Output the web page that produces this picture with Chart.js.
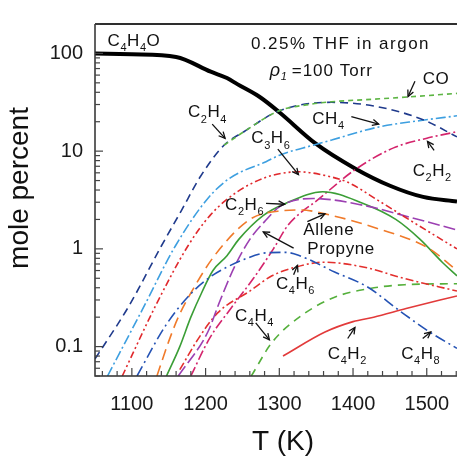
<!DOCTYPE html>
<html><head><meta charset="utf-8">
<script src="https://cdn.jsdelivr.net/npm/chart.js@4.4.0/dist/chart.umd.min.js"></script>
<style>html,body{margin:0;padding:0;background:#fff}#w{width:465px;height:456px}</style>
</head><body><div id="w"><canvas id="c" width="465" height="456"></canvas></div>
<script>
// ---- data (temperature in K, mole percent) ----
const T_C4H4O = [1050,1100,1160,1207,1229,1243,1273,1300,1349,1402,1451,1495,1541];
const C4H4O   = [100,98,92,65,56,48.5,36,25,12,6.7,4.4,3.4,3.05];
const T_C2H4 = [1050,1057,1096,1140,1167,1193,1225,1252,1300,1371,1428,1495,1541];
const C2H4   = [0.075,0.09,0.26,1.07,2.45,5.5,11.5,15.8,25.9,31.6,29,21,14];
const T_CO = [1225,1252,1300,1340,1371,1428,1478,1541];
const CO   = [11.5,15.8,25.9,30,32,34,36,39];
const T_CH4 = [1067,1114,1159,1203,1233,1282,1302,1346,1371,1435,1490,1541];
const CH4   = [0.05,0.237,1.07,3.28,5.3,7.8,9.2,11.5,13,17.7,20.5,23];
const T_C3H6 = [1087,1132,1176,1207,1243,1282,1302,1326,1368,1393,1435,1488,1541];
const C3H6   = [0.05,0.26,1.07,2.24,3.84,5.4,5.9,6.15,5.5,4.8,3.1,1.75,1.0];
const T_C4H8 = [1107,1146,1180,1207,1229,1252,1282,1309,1326,1375,1419,1464,1504,1541];
const C4H8   = [0.05,0.165,0.347,0.52,0.65,0.78,0.91,0.92,0.86,0.58,0.41,0.23,0.141,0.096];
const T_ALLENE = [1134,1150,1163,1185,1212,1260,1302,1330,1362,1435,1502,1541];
const ALLENE   = [0.05,0.113,0.2,0.41,0.85,2.0,2.45,2.5,2.28,1.6,1.02,0.6];
const T_GREEN = [1147,1165,1180,1195,1210,1229,1245,1278,1309,1359,1413,1458,1491,1521,1541];
const GREEN   = [0.05,0.1,0.2,0.36,0.6,0.85,1.25,2.19,2.93,3.84,2.93,2.0,1.25,0.73,0.53];
const T_PURPLE = [1163,1203,1220,1239,1260,1280,1302,1346,1413,1479,1541];
const PURPLE   = [0.05,0.141,0.3,0.65,1.25,1.9,2.75,3.28,2.8,2.09,1.56];
const T_C4H6 = [1165,1190,1216,1260,1290,1322,1360,1419,1464,1541];
const C4H6   = [0.058,0.12,0.22,0.37,0.53,0.65,0.73,0.64,0.51,0.37];
const T_C2H2 = [1180,1205,1235,1265,1292,1312,1355,1402,1455,1499,1541];
const C2H2   = [0.05,0.12,0.25,0.5,1.0,1.75,3.3,6.4,10.8,13.5,15.8];
const T_C4H4 = [1262,1290,1331,1375,1420,1470,1541];
const C4H4   = [0.05,0.11,0.21,0.32,0.39,0.43,0.44];
const T_C4H2 = [1305,1362,1400,1428,1472,1541];
const C4H2   = [0.08,0.141,0.18,0.2,0.245,0.33];

const X_TICKS = [1100,1200,1300,1400,1500];
const Y_TICKS = [0.1,1,10,100];

// annotation labels: [text, T, value]  (text uses _n for subscripts)
const LABELS = [
  ['C_4H_4O',1067,119],['C_2H_4',1176,22.1],['CO',1494.5,48.5],['CH_4',1344.6,18.9],
  ['C_3H_6',1262,12.0],['C_2H_2',1481,5.6],['C_2H_6',1226.5,2.5],['Allene',1332.6,1.39],
  ['Propyne',1338,0.887],['C_4H_6',1295.5,0.386],['C_4H_4',1239.8,0.184],
  ['C_4H_2',1365.8,0.0748],['C_4H_8',1465.3,0.0748]
];
// arrows: [T1,v1,T2,v2] (head at 2nd point)
const ARROWS = [
  [1484,51.9,1474.6,36.2],[1209,18.9,1226.5,13.5],[1397.7,22.6,1434.8,18.9],
  [1298,10.5,1326,5.74],[1510,10.2,1501,12.6],[1282,2.92,1307.4,2.86],
  [1338,1.9,1362,2.28],[1319.4,1.016,1278.2,1.49],[1319.4,0.542,1324.7,0.678],
  [1268,0.175,1286.6,0.117],[1392.8,0.121,1402.6,0.157],[1494.5,0.121,1505.5,0.141]
];

function pts(ts, vs){ return ts.map((t,i)=>({x:t,y:vs[i]})); }
function ds(label, ts, vs, color, dash, width){
  return {label, data:pts(ts,vs), borderColor:color, borderDash:dash, borderWidth:width||1.6,
    pointRadius:0, fill:false, cubicInterpolationMode:'monotone', borderCapStyle:'butt'};
}

const datasets = [
  ds('CO', T_CO, CO, '#5db544', [5,4]),
  ds('C2H4', T_C2H4, C2H4, '#1f3a8c', [8,5]),
  ds('CH4', T_CH4, CH4, '#3d9fe0', [10,3,2,3]),
  ds('C3H6', T_C3H6, C3H6, '#e0282c', [7,3,2,3,2,3]),
  ds('C4H8', T_C4H8, C4H8, '#2452b4', [11,4,2,4]),
  ds('Allene', T_ALLENE, ALLENE, '#f07a2a', [11,6]),
  ds('Propyne', T_PURPLE, PURPLE, '#9c40b2', [12,4]),
  ds('C2H6', T_GREEN, GREEN, '#3b9e36', []),
  ds('C4H6', T_C4H6, C4H6, '#e3302e', [8,3,2,3]),
  ds('C2H2', T_C2H2, C2H2, '#d4246c', [10,3,2,3]),
  ds('C4H4', T_C4H4, C4H4, '#55b03c', [8,6]),
  ds('C4H2', T_C4H2, C4H2, '#e23a3a', []),
  ds('C4H4O', T_C4H4O, C4H4O, '#000000', [], 4)
];

const FONT = '"Liberation Sans", Arial, Helvetica, sans-serif';

function drawFormula(ctx, str, x, y, size){
  let cx = x;
  for (let i=0;i<str.length;i++){
    let ch = str[i];
    if (ch==='_'){
      const s = str[++i];
      ctx.font = Math.round(size*0.66)+'px '+FONT;
      ctx.fillText(s, cx, y+size*0.3);
      cx += ctx.measureText(s).width + 0.5;
    } else {
      ctx.font = size+'px '+FONT;
      ctx.fillText(ch, cx, y);
      cx += ctx.measureText(ch).width + 0.6;
    }
  }
}
function arrow(ctx,x1,y1,x2,y2){
  ctx.beginPath(); ctx.moveTo(x1,y1); ctx.lineTo(x2,y2); ctx.stroke();
  const a = Math.atan2(y2-y1,x2-x1), L=7, w=0.45;
  ctx.beginPath();
  ctx.moveTo(x2-L*Math.cos(a-w), y2-L*Math.sin(a-w));
  ctx.lineTo(x2,y2);
  ctx.lineTo(x2-L*Math.cos(a+w), y2-L*Math.sin(a+w));
  ctx.stroke();
}

const decor = {
  id:'decor',
  beforeDraw(chart){
    const ctx=chart.ctx; ctx.save(); ctx.fillStyle='#fff'; ctx.fillRect(0,0,chart.width,chart.height); ctx.restore();
  },
  afterDraw(chart){
    const {ctx, chartArea:ca, scales} = chart; const xs=scales.x, ys=scales.y;
    ctx.save();
    // frame
    ctx.strokeStyle='#2e2e2e';
    ctx.lineWidth=2; ctx.beginPath(); ctx.moveTo(ca.left,ca.top); ctx.lineTo(ca.right,ca.top); ctx.stroke();
    ctx.lineWidth=1.5; ctx.beginPath(); ctx.moveTo(ca.left,ca.top); ctx.lineTo(ca.left,ca.bottom); ctx.lineTo(ca.right,ca.bottom); ctx.stroke();
    // y ticks (inside)
    ctx.lineWidth=1.2; ctx.strokeStyle='#444';
    for (let d=0.01; d<=100; d*=10){
      for (let m=1;m<=9;m++){
        const v=m*d; if (v<ys.min*0.999 || v>ys.max*1.001) continue;
        const py=ys.getPixelForValue(v); const len = m===1?8:5;
        ctx.beginPath(); ctx.moveTo(ca.left,py); ctx.lineTo(ca.left+len,py); ctx.stroke();
      }
    }
    // x ticks (inside)
    for (let t=1060;t<=1540;t+=20){
      const px=xs.getPixelForValue(t); const len = (t%100===0)?8:5;
      ctx.beginPath(); ctx.moveTo(px,ca.bottom); ctx.lineTo(px,ca.bottom-len); ctx.stroke();
    }
    // axis titles
    ctx.fillStyle='#111';
    ctx.font='28px '+FONT; ctx.textAlign='center'; ctx.textBaseline='alphabetic';
    ctx.fillText('T (K)', 283, 450);
    ctx.save(); ctx.translate(28,188); ctx.rotate(-Math.PI/2); ctx.fillText('mole percent',0,0); ctx.restore();
    // header texts
    ctx.font='17px '+FONT;
    const hx = xs.getPixelForValue(1383), hy = ys.getPixelForValue(111.5);
    ctx.letterSpacing='1.5px';
    ctx.textAlign='center'; ctx.fillText('0.25% THF in argon', hx, hy);
    ctx.letterSpacing='0px';
    ctx.textAlign='left';
    const px0 = xs.getPixelForValue(1287), py0 = ys.getPixelForValue(58.5);
    ctx.font='italic 18px '+FONT; ctx.fillText('\u03C1', px0, py0);
    ctx.font='italic 11px '+FONT; ctx.fillText('1', px0+11, py0+4);
    ctx.font='17px '+FONT; ctx.letterSpacing='1px'; ctx.fillText('=100 Torr', px0+22, py0);
    ctx.letterSpacing='0px';
    // labels
    ctx.textAlign='left';
    LABELS.forEach(([s,t,v])=>{
      drawFormula(ctx, s, xs.getPixelForValue(t), ys.getPixelForValue(v), 17);
    });
    // arrows
    ctx.strokeStyle='#111'; ctx.lineWidth=1.3;
    ARROWS.forEach(([t1,v1,t2,v2])=>{
      arrow(ctx, xs.getPixelForValue(t1), ys.getPixelForValue(v1), xs.getPixelForValue(t2), ys.getPixelForValue(v2));
    });
    ctx.restore();
  }
};

new Chart(document.getElementById('c'), {
  type:'line',
  data:{datasets},
  options:{
    responsive:false, animation:false, devicePixelRatio:1,
    layout:{padding:{top:7,right:0,left:0,bottom:0}},
    plugins:{legend:{display:false}, tooltip:{enabled:false}},
    scales:{
      x:{type:'linear', min:1050, max:1541,
        afterBuildTicks:(s)=>{ s.ticks = X_TICKS.map(v=>({value:v})); },
        afterFit:(s)=>{ s.height = 80; },
        grid:{display:false, drawTicks:false}, border:{display:false},
        ticks:{font:{family:FONT,size:20}, color:'#1a1a1a', padding:16, maxRotation:0, autoSkip:false, callback:(v)=>String(v)}
      },
      y:{type:'logarithmic', min:0.05, max:200,
        afterBuildTicks:(s)=>{ s.ticks = Y_TICKS.map(v=>({value:v})); },
        afterFit:(s)=>{ s.width = 95; },
        grid:{display:false, drawTicks:false}, border:{display:false},
        ticks:{font:{family:FONT,size:20}, color:'#1a1a1a', padding:12, autoSkip:false, callback:(v)=>String(v)}
      }
    }
  },
  plugins:[decor]
});
</script></body></html>
